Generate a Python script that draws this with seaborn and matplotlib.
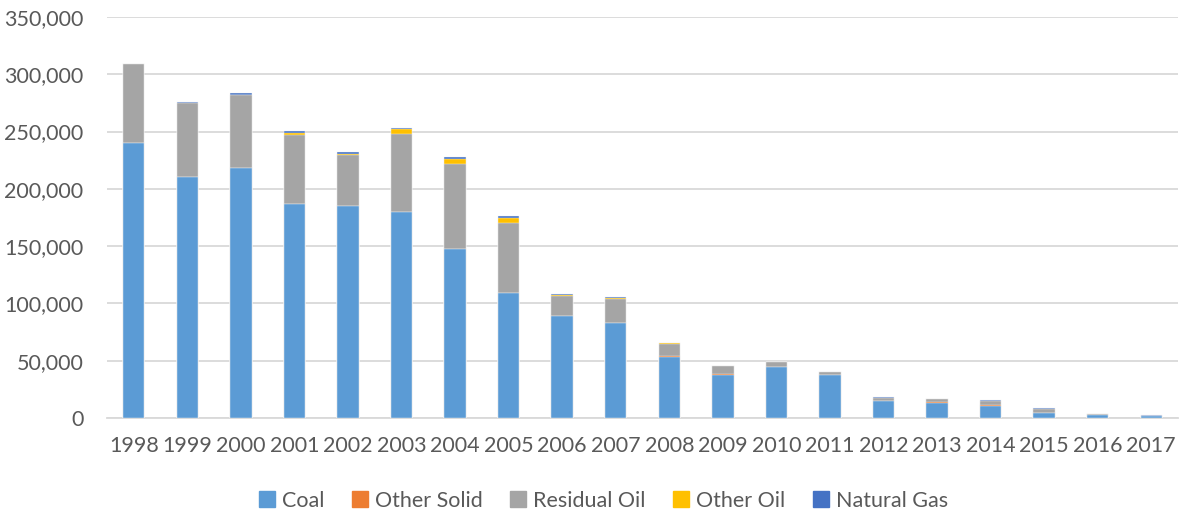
import matplotlib
matplotlib.use("Agg")
import matplotlib.pyplot as plt
from matplotlib.lines import Line2D
from matplotlib.ticker import FuncFormatter
import numpy as np
import pandas as pd
import seaborn as sns

years = [str(y) for y in range(1998, 2018)]
coal = [240000, 210500, 218300, 187200, 185100, 179400, 147600, 108700, 89200, 83100,
        53000, 37700, 44300, 37300, 14700, 13500, 10900, 4200, 2800, 1500]
other_solid = [0, 0, 0, 0, 0, 0, 0, 0, 0, 0,
               1000, 800, 500, 300, 500, 500, 500, 200, 100, 0]
residual_oil = [69000, 64500, 63700, 59800, 44200, 68500, 74200, 61900, 17500, 20700,
                11000, 7000, 4000, 2900, 2500, 3000, 3500, 3800, 900, 600]
other_oil = [0, 0, 0, 2000, 1200, 4000, 4000, 4000, 300, 1200,
             300, 300, 500, 0, 0, 0, 0, 0, 0, 0]
natural_gas = [400, 800, 1400, 1500, 1500, 1200, 1700, 2000, 1000, 1000,
               0, 0, 0, 0, 200, 0, 1200, 300, 100, 100]

series_names = ["Coal", "Other Solid", "Residual Oil", "Other Oil", "Natural Gas"]
series_vals = [coal, other_solid, residual_oil, other_oil, natural_gas]
colors = ["#5B9BD5", "#ED7D31", "#A5A5A5", "#FFC000", "#4472C4"]

sns.set_theme(style="white")
plt.rcParams["font.family"] = ["Lato", "DejaVu Sans"]
text_color = "#595959"

fig = plt.figure(figsize=(11.83, 5.18), dpi=100)
ax = fig.add_axes([107 / 1183, 1 - 418 / 518, (1178 - 107) / 1183, (418 - 17) / 518])

cum = np.cumsum(np.array(series_vals, dtype=float), axis=0)
# draw from the top layer down so lower segments cover upper cumulative bars
for i in range(len(series_names) - 1, -1, -1):
    df = pd.DataFrame({"year": years, "value": cum[i]})
    sns.barplot(data=df, x="year", y="value", color=colors[i], saturation=1,
                width=0.4, edgecolor="#F2F2F2", linewidth=0.3, ax=ax, zorder=3)

ax.set_ylim(0, 350000)
ax.set_xlim(-0.5, len(years) - 0.5)
ax.set_yticks(np.arange(0, 350001, 50000))
ax.yaxis.set_major_formatter(FuncFormatter(lambda v, p: f"{v:,.0f}"))
ax.grid(axis="y", color="#D9D9D9", linewidth=1.3, zorder=0)
ax.set_axisbelow(True)
for s in ["top", "right", "left"]:
    ax.spines[s].set_visible(False)
ax.spines["bottom"].set_color("#D9D9D9")
ax.spines["bottom"].set_linewidth(1.3)
ax.set_xlabel("")
ax.set_ylabel("")
ax.tick_params(axis="both", length=0, labelsize=15.5, colors=text_color)
ax.tick_params(axis="y", pad=17)
ax.tick_params(axis="x", pad=13)

handles = [Line2D([0], [0], marker="s", linestyle="none", markersize=11,
                  markerfacecolor=c, markeredgecolor=c) for c in colors]
fig.legend(handles, series_names, loc="center", bbox_to_anchor=(602 / 1183, 1 - 501 / 518),
           ncol=5, frameon=False, fontsize=15.5, labelcolor=text_color,
           handletextpad=0.2, columnspacing=1.15, handlelength=1.0)

fig.savefig("out.png", dpi=100)
